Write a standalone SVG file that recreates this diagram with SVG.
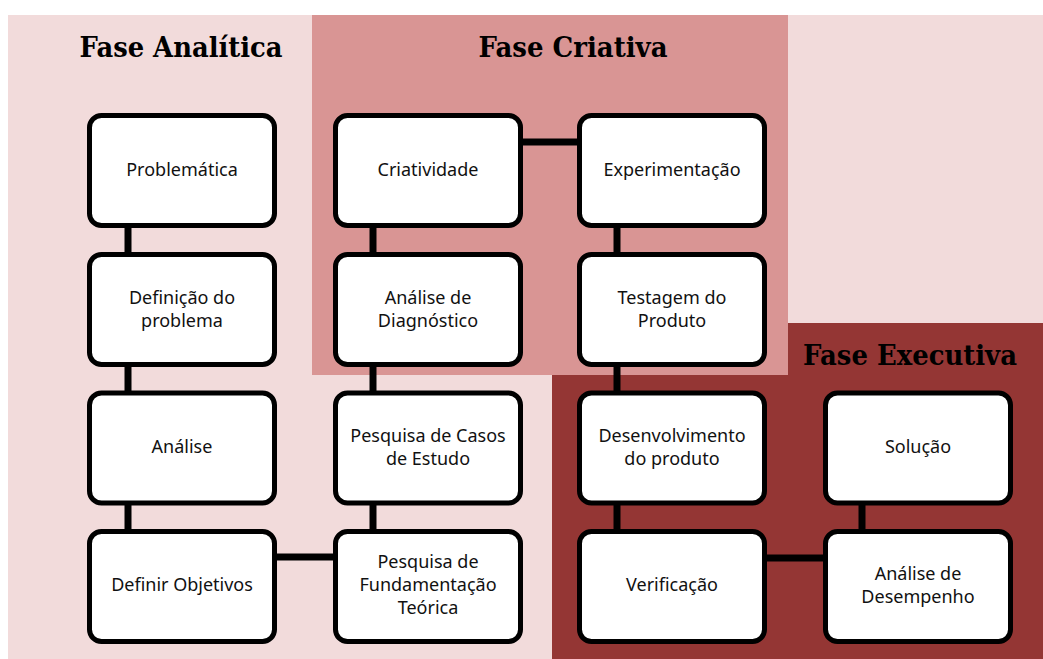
<svg xmlns="http://www.w3.org/2000/svg" width="1043" height="659" viewBox="0 0 1043 659">
<style>
.box{fill:#fff;stroke:#000;stroke-width:5}
.con{stroke:#000;stroke-width:7;fill:none}
.lbl{font-family:"Noto Sans","Open Sans",sans-serif;font-size:18px;fill:#111;text-anchor:middle}
.title{font-family:"DejaVu Serif",serif;font-weight:bold;font-size:27px;fill:#000;text-anchor:middle}
</style>
<rect width="1043" height="659" fill="#fff"/>
<g id="fase-analitica">
<rect x="8" y="15" width="1035" height="644" fill="#F2DBDB"/>
<text class="title" x="181" y="57" textLength="203" lengthAdjust="spacingAndGlyphs">Fase Analítica</text>
</g>
<g id="fase-executiva">
<rect x="552" y="323" width="491" height="336" fill="#943634"/>
<text class="title" x="910" y="365" textLength="214" lengthAdjust="spacingAndGlyphs">Fase Executiva</text>
</g>
<g id="fase-criativa">
<rect x="312" y="15" width="476" height="360" fill="#D99594"/>
<text class="title" x="573" y="57" textLength="189" lengthAdjust="spacingAndGlyphs">Fase Criativa</text>
</g>
<g id="connectors">
<line class="con" x1="128" y1="226" x2="128" y2="254"/>
<line class="con" x1="128" y1="365" x2="128" y2="392"/>
<line class="con" x1="128" y1="504" x2="128" y2="531"/>
<line class="con" x1="275" y1="557" x2="335" y2="557"/>
<line class="con" x1="373" y1="504" x2="373" y2="531"/>
<line class="con" x1="373" y1="365" x2="373" y2="392"/>
<line class="con" x1="373" y1="226" x2="373" y2="254"/>
<line class="con" x1="521" y1="142" x2="579" y2="142"/>
<line class="con" x1="617" y1="226" x2="617" y2="254"/>
<line class="con" x1="617" y1="365" x2="617" y2="392"/>
<line class="con" x1="617" y1="504" x2="617" y2="531"/>
<line class="con" x1="765" y1="558" x2="825" y2="558"/>
<line class="con" x1="862" y1="504" x2="862" y2="531"/>
</g>
<g id="problematica"><rect class="box" x="89.5" y="115.5" width="185" height="110" rx="12"/><text class="lbl" x="182" y="176">Problemática</text></g>
<g id="definicao"><rect class="box" x="89.5" y="254.5" width="185" height="110" rx="12"/><text class="lbl" x="182" y="304">Definição do</text><text class="lbl" x="182" y="327">problema</text></g>
<g id="analise"><rect class="box" x="89.5" y="393" width="185" height="110" rx="12"/><text class="lbl" x="182" y="453">Análise</text></g>
<g id="definir-objetivos"><rect class="box" x="89.5" y="531.5" width="185" height="110" rx="12"/><text class="lbl" x="182" y="591">Definir Objetivos</text></g>
<g id="criatividade"><rect class="box" x="335.5" y="115.5" width="185" height="110" rx="12"/><text class="lbl" x="428" y="176">Criatividade</text></g>
<g id="analise-diagnostico"><rect class="box" x="335.5" y="254.5" width="185" height="110" rx="12"/><text class="lbl" x="428" y="304">Análise de</text><text class="lbl" x="428" y="327">Diagnóstico</text></g>
<g id="pesquisa-casos"><rect class="box" x="335.5" y="393" width="185" height="110" rx="12"/><text class="lbl" x="428" y="442">Pesquisa de Casos</text><text class="lbl" x="428" y="465">de Estudo</text></g>
<g id="pesquisa-fundamentacao"><rect class="box" x="335.5" y="531.5" width="185" height="110" rx="12"/><text class="lbl" x="428" y="568">Pesquisa de</text><text class="lbl" x="428" y="591">Fundamentação</text><text class="lbl" x="428" y="614">Teórica</text></g>
<g id="experimentacao"><rect class="box" x="579.5" y="115.5" width="185" height="110" rx="12"/><text class="lbl" x="672" y="176">Experimentação</text></g>
<g id="testagem"><rect class="box" x="579.5" y="254.5" width="185" height="110" rx="12"/><text class="lbl" x="672" y="304">Testagem do</text><text class="lbl" x="672" y="327">Produto</text></g>
<g id="desenvolvimento"><rect class="box" x="579.5" y="393" width="185" height="110" rx="12"/><text class="lbl" x="672" y="442">Desenvolvimento</text><text class="lbl" x="672" y="465">do produto</text></g>
<g id="verificacao"><rect class="box" x="579.5" y="531.5" width="185" height="110" rx="12"/><text class="lbl" x="672" y="591">Verificação</text></g>
<g id="solucao"><rect class="box" x="825.5" y="393" width="185" height="110" rx="12"/><text class="lbl" x="918" y="453">Solução</text></g>
<g id="analise-desempenho"><rect class="box" x="825.5" y="531.5" width="185" height="110" rx="12"/><text class="lbl" x="918" y="580">Análise de</text><text class="lbl" x="918" y="603">Desempenho</text></g>
</svg>
